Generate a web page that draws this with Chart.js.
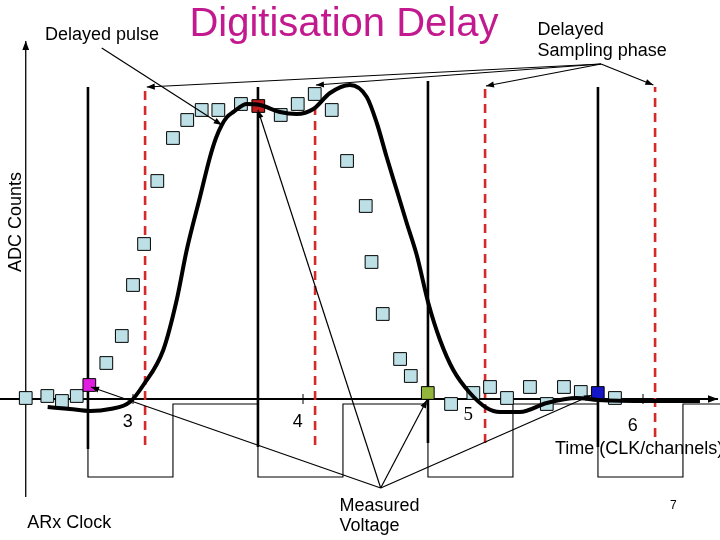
<!DOCTYPE html>
<html>
<head>
<meta charset="utf-8">
<script src="https://cdn.jsdelivr.net/npm/chart.js@4.4.1/dist/chart.umd.min.js"></script>
<style>
  html, body { margin: 0; padding: 0; background: #fff; }
  #chart { display: block; }
</style>
</head>
<body>
<canvas id="chart" width="720" height="540"></canvas>
<script>
// x = time in clock periods (CLK), y = ADC counts (0 on the time axis)
const X_MIN = 2.2176, X_MAX = 6.4529;
const Y_MIN = -141, Y_MAX = 399;

// sampled ADC values (squares)
const sampleTimes = [2.369, 2.496, 2.582, 2.669, 2.743, 2.843, 2.934, 3.000, 3.065, 3.143,
  3.235, 3.319, 3.404, 3.502, 3.635, 3.737, 3.869, 3.969, 4.069, 4.169,
  4.259, 4.369, 4.403, 4.469, 4.571, 4.634, 4.734, 4.871, 5.002, 5.100,
  5.200, 5.335, 5.434, 5.535, 5.634, 5.734, 5.835];
const sampleCounts = [1, 3, -2, 3, 14, 36, 63, 114, 155, 218,
  261, 279, 289, 289, 295, 293, 284, 295, 305, 289,
  238, 193, 137, 85, 40, 23, 6, -5, 6, 12,
  1, 12, -5, 12, 7, 6, 1];
// measured voltages at the clock edges
const measuredColors = { 4: '#e01ee0', 15: '#c21c1c', 26: '#93b53c', 35: '#1515c8' };

// delayed pulse shape
const pulseTimes = [2.498, 2.629, 2.747, 2.865, 2.982, 3.061, 3.178, 3.257, 3.316, 3.394,
  3.453, 3.488, 3.522, 3.553, 3.590, 3.669, 3.747, 3.865, 3.963, 4.061,
  4.159, 4.276, 4.375, 4.434, 4.492, 4.551, 4.610, 4.669, 4.737, 4.806,
  4.884, 4.982, 5.081, 5.159, 5.276, 5.434, 5.610, 5.735, 6.041, 6.335];
const pulseCounts = [-8, -10, -12, -10, -3, 14, 49, 99, 149, 202,
  242, 261, 274, 282, 287, 295, 294, 287, 285, 290,
  306, 314, 302, 276, 242, 209, 176, 144, 96, 59,
  29, 6, -9, -13, -13, -4, 1, -1, -2, -2];

// ARx clock waveform
const clockTimes = [2.735, 2.735, 3.235, 3.735, 4.235, 4.735, 5.235, 5.735, 6.235, 6.453];
const clockLevels = [-5, -78, -5, -78, -5, -78, -5, -78, -5, -5];

// clock edges (solid) and delayed sampling phase (dashed)
const edgeTimes = [2.735, 3.735, 4.735, 5.735];
const edgeTop = [312, 312, 318, 312];
const edgeBottom = [-50, -48, -44, -48];
const phaseTimes = [3.071, 4.071, 5.071, 6.071];
const phaseTop = [312, 312, 313, 312];
const phaseBottom = [-46, -46, -44, -38];

// time axis ticks and labels
const tickTimes = [3, 4, 6];
const tickLabels = ['3', '4', '5', '6'];
const tickLabelTimes = [2.969, 3.969, 4.972, 5.939];
const tickLabelCounts = [-27.5, -27.5, -21, -32];

// annotation arrows: label anchor -> targets
const phaseAnchor = [5.753, 335];
const phaseTargets = [[3.081, 312], [4.076, 314], [5.076, 313], [6.061, 314]];
const voltAnchor = [4.457, -89];
const voltTargets = [[2.753, 12], [3.735, 289], [4.729, -1], [5.700, 4]];

const SANS = '"Liberation Sans", Arial, Helvetica, sans-serif';
const labels = [
  { text: 'Digitisation Delay', t: 4.241, c: 363, font: '40px ' + SANS, color: '#c2198e', align: 'center' },
  { text: 'Delayed pulse', t: 2.482, c: 359, font: '18px ' + SANS },
  { text: 'Delayed', t: 5.380, c: 364, font: '18px ' + SANS },
  { text: 'Sampling phase', t: 5.380, c: 343, font: '18px ' + SANS },
  { text: 'ADC Counts', t: 2.309, c: 177, font: '18px ' + SANS, align: 'center', baseline: 'middle', rotate: -Math.PI / 2 },
  { text: 'ARx Clock', t: 2.378, c: -129, font: '18px ' + SANS },
  { text: 'Measured', t: 4.214, c: -112, font: '18px ' + SANS },
  { text: 'Voltage', t: 4.214, c: -132, font: '18px ' + SANS },
  { text: 'Time (CLK/channels)', t: 5.482, c: -55, font: '18px ' + SANS },
  { text: '7', t: 6.178, c: -110, font: '12px ' + SANS, align: 'center' }
];
tickLabels.forEach((txt, i) => labels.push({
  text: txt, t: tickLabelTimes[i], c: tickLabelCounts[i], align: 'center',
  font: txt === '5' ? '19px "Liberation Serif", "Times New Roman", serif' : '18px ' + SANS
}));

function seg(t0, c0, t1, c1, style) {
  return Object.assign({
    data: [{ x: t0, y: c0 }, { x: t1, y: c1 }],
    showLine: true, pointRadius: 0, borderColor: '#000', borderWidth: 1.2, order: 0
  }, style);
}

const datasets = [];
datasets.push({
  label: 'samples',
  data: sampleTimes.map((t, i) => ({ x: t, y: sampleCounts[i] })),
  pointStyle: 'rect', pointRadius: 9,
  pointBackgroundColor: sampleTimes.map((_, i) => measuredColors[i] || '#bde0e6'),
  pointBorderColor: '#000', pointBorderWidth: 1, showLine: false, order: 2
});
datasets.push({
  label: 'pulse',
  data: pulseTimes.map((t, i) => ({ x: t, y: pulseCounts[i] })),
  showLine: true, pointRadius: 0, borderColor: '#000', borderWidth: 4,
  cubicInterpolationMode: 'monotone', order: 1
});
datasets.push({
  label: 'clock',
  data: clockTimes.map((t, i) => ({ x: t, y: clockLevels[i] })),
  showLine: true, stepped: 'before', pointRadius: 0, borderColor: '#000', borderWidth: 1.1, order: 6
});
edgeTimes.forEach((t, i) => datasets.push(seg(t, edgeBottom[i], t, edgeTop[i], { borderWidth: 2.6, order: 5 })));
phaseTimes.forEach((t, i) => datasets.push(seg(t, phaseBottom[i], t, phaseTop[i], {
  borderWidth: 2.6, borderColor: '#d42a2a', borderDash: [9, 6], order: 4
})));
tickTimes.forEach(t => datasets.push(seg(t, -5, t, 5, { borderWidth: 1, order: 7 })));
// axes
datasets.push(seg(X_MIN, 0, 6.441, 0, { borderWidth: 1.8, arrowHead: 10, order: 7 }));
datasets.push(seg(2.369, -98, 2.369, 358, { borderWidth: 1.3, arrowHead: 9, order: 7 }));
// annotation arrows
datasets.push(seg(2.816, 351, 3.522, 274, { arrowHead: 8 }));
phaseTargets.forEach(p => datasets.push(seg(phaseAnchor[0], phaseAnchor[1], p[0], p[1], { arrowHead: 8 })));
voltTargets.forEach(p => datasets.push(seg(voltAnchor[0], voltAnchor[1], p[0], p[1], { arrowHead: 8 })));

const arrowHeads = {
  id: 'arrowHeads',
  afterDatasetsDraw(chart) {
    const ctx = chart.ctx;
    chart.data.datasets.forEach((ds, i) => {
      if (!ds.arrowHead) return;
      const pts = chart.getDatasetMeta(i).data;
      const a = pts[pts.length - 2], b = pts[pts.length - 1];
      const ang = Math.atan2(b.y - a.y, b.x - a.x);
      const len = ds.arrowHead, w = len * 0.38;
      const bx = b.x - len * Math.cos(ang), by = b.y - len * Math.sin(ang);
      ctx.save();
      ctx.fillStyle = ds.borderColor;
      ctx.beginPath();
      ctx.moveTo(b.x, b.y);
      ctx.lineTo(bx + w * Math.sin(ang), by - w * Math.cos(ang));
      ctx.lineTo(bx - w * Math.sin(ang), by + w * Math.cos(ang));
      ctx.closePath();
      ctx.fill();
      ctx.restore();
    });
  }
};

const textLabels = {
  id: 'textLabels',
  afterDatasetsDraw(chart) {
    const { ctx, scales: { x, y } } = chart;
    labels.forEach(l => {
      ctx.save();
      ctx.font = l.font;
      ctx.fillStyle = l.color || '#000';
      ctx.textAlign = l.align || 'left';
      ctx.textBaseline = l.baseline || 'alphabetic';
      ctx.translate(x.getPixelForValue(l.t), y.getPixelForValue(l.c));
      if (l.rotate) ctx.rotate(l.rotate);
      ctx.fillText(l.text, 0, 0);
      ctx.restore();
    });
  }
};

new Chart(document.getElementById('chart'), {
  type: 'scatter',
  data: { datasets },
  options: {
    responsive: false,
    animation: false,
    events: [],
    layout: { padding: 0, autoPadding: false },
    plugins: { legend: { display: false }, tooltip: { enabled: false } },
    scales: {
      x: { type: 'linear', min: X_MIN, max: X_MAX, display: false },
      y: { type: 'linear', min: Y_MIN, max: Y_MAX, display: false }
    }
  },
  plugins: [arrowHeads, textLabels]
});
</script>
</body>
</html>
